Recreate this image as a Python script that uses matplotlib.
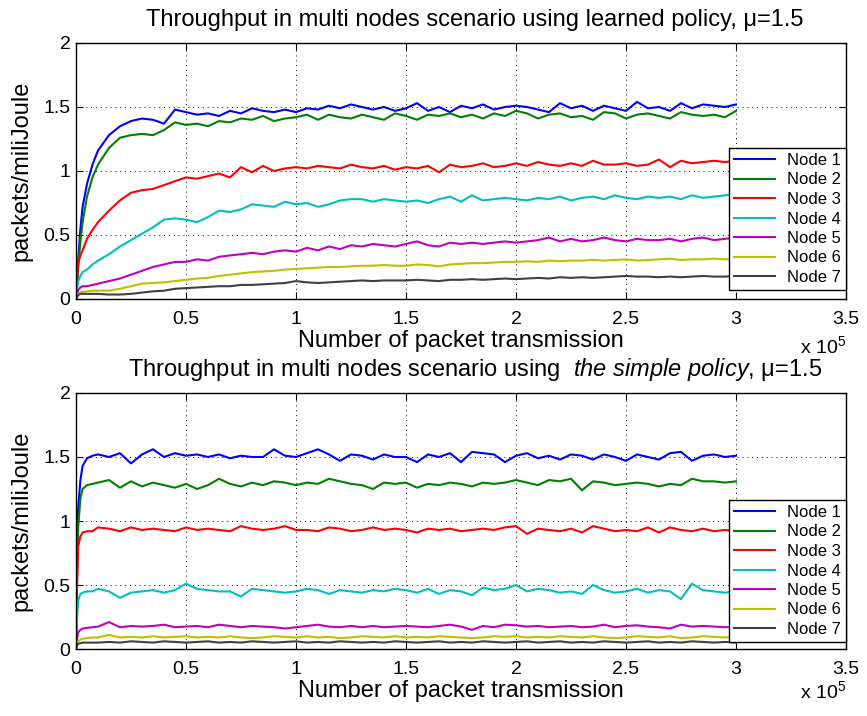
import numpy as np
import matplotlib
matplotlib.use("Agg")
import matplotlib.pyplot as plt
from matplotlib.ticker import FuncFormatter, MultipleLocator

plt.rcParams['font.family'] = ['Liberation Sans', 'DejaVu Sans']
plt.rcParams['mathtext.fontset'] = 'custom'
plt.rcParams['mathtext.rm'] = 'Liberation Sans'
plt.rcParams['mathtext.it'] = 'Liberation Sans:italic'

# ---------------- data (x in units of 1e5 packets) ----------------
x_top = [0, 0.01, 0.02, 0.03, 0.05, 0.075, 0.1,
         0.15, 0.2, 0.25, 0.3, 0.35, 0.4, 0.45, 0.5, 0.55, 0.6, 0.65, 0.7, 0.75, 0.8,
         0.85, 0.9, 0.95, 1.0, 1.05, 1.1, 1.15, 1.2, 1.25, 1.3, 1.35, 1.4, 1.45, 1.5,
         1.55, 1.6, 1.65, 1.7, 1.75, 1.8, 1.85, 1.9, 1.95, 2.0, 2.05, 2.1, 2.15, 2.2,
         2.25, 2.3, 2.35, 2.4, 2.45, 2.5, 2.55, 2.6, 2.65, 2.7, 2.75, 2.8, 2.85, 2.9,
         2.95, 3.0]

top_node1 = [0, 0.30, 0.55, 0.72, 0.90, 1.05, 1.16,
             1.28, 1.35, 1.39, 1.41, 1.40, 1.37, 1.48, 1.46, 1.44, 1.45, 1.43, 1.47, 1.45, 1.49,
             1.47, 1.46, 1.48, 1.46, 1.49, 1.48, 1.51, 1.49, 1.52, 1.50, 1.48, 1.50, 1.47, 1.49,
             1.53, 1.47, 1.50, 1.46, 1.51, 1.49, 1.52, 1.48, 1.50, 1.51, 1.50, 1.48, 1.46, 1.53,
             1.49, 1.51, 1.47, 1.51, 1.49, 1.47, 1.54, 1.49, 1.50, 1.47, 1.53, 1.49, 1.52, 1.51,
             1.50, 1.52]
top_node2 = [0, 0.25, 0.45, 0.60, 0.80, 0.95, 1.05,
             1.18, 1.26, 1.28, 1.29, 1.28, 1.32, 1.38, 1.36, 1.37, 1.35, 1.39, 1.38, 1.41, 1.40,
             1.43, 1.39, 1.41, 1.42, 1.44, 1.40, 1.44, 1.42, 1.41, 1.44, 1.42, 1.40, 1.45, 1.43,
             1.40, 1.44, 1.43, 1.45, 1.42, 1.44, 1.41, 1.45, 1.43, 1.47, 1.45, 1.41, 1.44, 1.45,
             1.42, 1.43, 1.40, 1.46, 1.45, 1.41, 1.44, 1.45, 1.43, 1.41, 1.46, 1.44, 1.43, 1.44,
             1.42, 1.47]
top_node3 = [0, 0.28, 0.34, 0.38, 0.47, 0.54, 0.60,
             0.69, 0.77, 0.83, 0.85, 0.86, 0.89, 0.92, 0.95, 0.94, 0.96, 0.98, 0.95, 1.03, 0.99,
             1.04, 1.00, 1.02, 1.03, 1.02, 1.04, 1.03, 1.02, 1.05, 1.03, 1.02, 1.04, 1.01, 1.03,
             1.02, 1.04, 0.99, 1.05, 1.03, 1.04, 1.06, 1.03, 1.04, 1.06, 1.04, 1.07, 1.05, 1.04,
             1.06, 1.04, 1.08, 1.05, 1.05, 1.06, 1.04, 1.05, 1.09, 1.03, 1.08, 1.06, 1.07, 1.08,
             1.07, 1.08]
top_node4 = [0, 0.14, 0.18, 0.21, 0.23, 0.27, 0.30,
             0.35, 0.41, 0.46, 0.51, 0.56, 0.62, 0.63, 0.62, 0.60, 0.64, 0.69, 0.68, 0.70, 0.74,
             0.73, 0.72, 0.76, 0.74, 0.75, 0.72, 0.74, 0.77, 0.78, 0.78, 0.76, 0.78, 0.77, 0.76,
             0.77, 0.75, 0.78, 0.80, 0.76, 0.81, 0.77, 0.78, 0.79, 0.78, 0.77, 0.79, 0.78, 0.80,
             0.77, 0.79, 0.80, 0.78, 0.81, 0.79, 0.78, 0.80, 0.79, 0.80, 0.78, 0.81, 0.79, 0.80,
             0.81, 0.82]
top_node5 = [0, 0.07, 0.09, 0.10, 0.10, 0.11, 0.12,
             0.14, 0.16, 0.19, 0.22, 0.25, 0.27, 0.29, 0.29, 0.31, 0.30, 0.33, 0.34, 0.35, 0.36,
             0.35, 0.37, 0.38, 0.37, 0.40, 0.38, 0.41, 0.39, 0.42, 0.41, 0.43, 0.42, 0.41, 0.43,
             0.45, 0.42, 0.41, 0.44, 0.43, 0.44, 0.43, 0.44, 0.45, 0.44, 0.45, 0.46, 0.48, 0.45,
             0.47, 0.45, 0.46, 0.48, 0.46, 0.45, 0.47, 0.46, 0.46, 0.47, 0.45, 0.47, 0.48, 0.46,
             0.47, 0.48]
top_node6 = [0, 0.04, 0.05, 0.055, 0.06, 0.065, 0.065,
             0.065, 0.08, 0.10, 0.12, 0.125, 0.13, 0.14, 0.15, 0.16, 0.165, 0.18, 0.19, 0.20, 0.21,
             0.215, 0.22, 0.23, 0.235, 0.24, 0.245, 0.25, 0.25, 0.255, 0.26, 0.26, 0.265, 0.26, 0.26,
             0.27, 0.265, 0.255, 0.27, 0.275, 0.28, 0.28, 0.285, 0.29, 0.29, 0.295, 0.29, 0.30, 0.295,
             0.30, 0.30, 0.305, 0.30, 0.305, 0.31, 0.30, 0.305, 0.31, 0.315, 0.305, 0.31, 0.31, 0.315,
             0.31, 0.31]
top_node7 = [0, 0.03, 0.04, 0.04, 0.04, 0.04, 0.04,
             0.035, 0.035, 0.04, 0.05, 0.06, 0.065, 0.08, 0.085, 0.09, 0.095, 0.10, 0.10, 0.11, 0.11,
             0.115, 0.12, 0.125, 0.14, 0.13, 0.125, 0.13, 0.135, 0.14, 0.145, 0.14, 0.145, 0.145, 0.145,
             0.15, 0.145, 0.14, 0.15, 0.15, 0.155, 0.15, 0.155, 0.16, 0.155, 0.16, 0.165, 0.16, 0.17,
             0.165, 0.17, 0.165, 0.17, 0.175, 0.18, 0.175, 0.175, 0.17, 0.175, 0.17, 0.175, 0.18, 0.175,
             0.175, 0.18]

x_bot = [0, 0.005, 0.01, 0.02, 0.03, 0.05, 0.075,
         0.1, 0.15, 0.2, 0.25, 0.3, 0.35, 0.4, 0.45, 0.5, 0.55, 0.6, 0.65, 0.7, 0.75, 0.8,
         0.85, 0.9, 0.95, 1.0, 1.05, 1.1, 1.15, 1.2, 1.25, 1.3, 1.35, 1.4, 1.45, 1.5,
         1.55, 1.6, 1.65, 1.7, 1.75, 1.8, 1.85, 1.9, 1.95, 2.0, 2.05, 2.1, 2.15, 2.2,
         2.25, 2.3, 2.35, 2.4, 2.45, 2.5, 2.55, 2.6, 2.65, 2.7, 2.75, 2.8, 2.85, 2.9,
         2.95, 3.0]

bot_node1 = [0, 0.80, 1.10, 1.32, 1.43, 1.49, 1.51,
             1.52, 1.50, 1.53, 1.45, 1.52, 1.56, 1.50, 1.53, 1.51, 1.52,
             1.50, 1.52, 1.49, 1.51, 1.50, 1.50, 1.56, 1.51, 1.50, 1.53,
             1.56, 1.52, 1.47, 1.52, 1.51, 1.48, 1.52, 1.50, 1.50, 1.46,
             1.52, 1.50, 1.53, 1.46, 1.54, 1.53, 1.52, 1.46, 1.51, 1.53,
             1.49, 1.51, 1.48, 1.52, 1.51, 1.48, 1.52, 1.50, 1.47, 1.52,
             1.50, 1.48, 1.53, 1.54, 1.47, 1.51, 1.52, 1.50, 1.51]
bot_node2 = [0, 0.60, 0.95, 1.18, 1.25, 1.28, 1.29,
             1.30, 1.32, 1.26, 1.31, 1.27, 1.30, 1.28, 1.26, 1.29, 1.25,
             1.28, 1.33, 1.29, 1.27, 1.30, 1.28, 1.31, 1.30, 1.28, 1.30,
             1.29, 1.33, 1.31, 1.29, 1.28, 1.25, 1.30, 1.29, 1.30, 1.26,
             1.29, 1.28, 1.30, 1.29, 1.27, 1.30, 1.29, 1.30, 1.32, 1.30,
             1.28, 1.32, 1.31, 1.33, 1.24, 1.31, 1.30, 1.28, 1.29, 1.30,
             1.29, 1.27, 1.29, 1.28, 1.33, 1.31, 1.31, 1.30, 1.31]
bot_node3 = [0, 0.50, 0.80, 0.88, 0.91, 0.92, 0.92,
             0.95, 0.94, 0.92, 0.95, 0.93, 0.94, 0.93, 0.92, 0.95, 0.93,
             0.94, 0.93, 0.92, 0.96, 0.94, 0.93, 0.94, 0.96, 0.93, 0.93,
             0.92, 0.95, 0.94, 0.92, 0.93, 0.95, 0.93, 0.94, 0.93, 0.91,
             0.94, 0.93, 0.94, 0.92, 0.93, 0.94, 0.93, 0.95, 0.96, 0.90,
             0.94, 0.93, 0.92, 0.94, 0.91, 0.96, 0.94, 0.92, 0.93, 0.92,
             0.95, 0.91, 0.95, 0.93, 0.92, 0.94, 0.92, 0.93, 0.92]
bot_node4 = [0, 0.25, 0.38, 0.43, 0.44, 0.45, 0.45,
             0.47, 0.45, 0.40, 0.44, 0.45, 0.46, 0.44, 0.46, 0.51, 0.47,
             0.46, 0.45, 0.45, 0.41, 0.47, 0.46, 0.45, 0.44, 0.45, 0.47,
             0.46, 0.43, 0.46, 0.45, 0.44, 0.46, 0.45, 0.47, 0.46, 0.44,
             0.47, 0.43, 0.46, 0.45, 0.42, 0.48, 0.46, 0.47, 0.50, 0.45,
             0.47, 0.46, 0.44, 0.45, 0.43, 0.50, 0.46, 0.44, 0.45, 0.47,
             0.44, 0.46, 0.45, 0.39, 0.51, 0.46, 0.45, 0.44, 0.45]
bot_node5 = [0, 0.08, 0.13, 0.15, 0.16, 0.165, 0.17,
             0.175, 0.21, 0.17, 0.18, 0.175, 0.18, 0.19, 0.17, 0.175, 0.18,
             0.17, 0.19, 0.18, 0.17, 0.18, 0.175, 0.17, 0.16, 0.17, 0.18,
             0.19, 0.175, 0.17, 0.18, 0.17, 0.18, 0.17, 0.175, 0.18, 0.175,
             0.17, 0.18, 0.19, 0.175, 0.15, 0.18, 0.17, 0.19, 0.185, 0.175,
             0.18, 0.17, 0.175, 0.18, 0.17, 0.175, 0.19, 0.17, 0.18, 0.185,
             0.175, 0.17, 0.16, 0.19, 0.175, 0.18, 0.175, 0.17, 0.175]
bot_node6 = [0, 0.04, 0.06, 0.075, 0.08, 0.085, 0.09,
             0.09, 0.11, 0.09, 0.095, 0.09, 0.10, 0.09, 0.095, 0.10, 0.09,
             0.095, 0.09, 0.10, 0.09, 0.085, 0.09, 0.10, 0.095, 0.09, 0.10,
             0.09, 0.095, 0.085, 0.09, 0.10, 0.095, 0.09, 0.10, 0.09, 0.095,
             0.09, 0.10, 0.095, 0.09, 0.085, 0.09, 0.10, 0.095, 0.10, 0.09,
             0.095, 0.09, 0.10, 0.095, 0.09, 0.10, 0.09, 0.085, 0.09, 0.10,
             0.095, 0.09, 0.10, 0.085, 0.09, 0.10, 0.095, 0.09, 0.095]
bot_node7 = [0, 0.03, 0.04, 0.045, 0.05, 0.05, 0.05,
             0.05, 0.055, 0.05, 0.06, 0.055, 0.05, 0.06, 0.055, 0.05, 0.055,
             0.06, 0.05, 0.055, 0.05, 0.06, 0.055, 0.05, 0.055, 0.06, 0.05,
             0.055, 0.05, 0.06, 0.055, 0.05, 0.055, 0.05, 0.06, 0.055, 0.05,
             0.055, 0.06, 0.05, 0.055, 0.05, 0.06, 0.055, 0.05, 0.055, 0.06,
             0.05, 0.055, 0.06, 0.05, 0.055, 0.05, 0.06, 0.055, 0.05, 0.055,
             0.06, 0.05, 0.055, 0.05, 0.06, 0.055, 0.05, 0.055, 0.05]

labels = ['Node 1', 'Node 2', 'Node 3', 'Node 4', 'Node 5', 'Node 6', 'Node 7']
colors = [(0, 0, 1), (0, 0.5, 0), (1, 0, 0), (0, 0.75, 0.75),
          (0.75, 0, 0.75), (0.75, 0.75, 0), (0.25, 0.25, 0.25)]

top_series = [top_node1, top_node2, top_node3, top_node4, top_node5, top_node6, top_node7]
bot_series = [bot_node1, bot_node2, bot_node3, bot_node4, bot_node5, bot_node6, bot_node7]

titles = ['Throughput in multi nodes scenario using learned policy, \u03bc=1.5',
          'Throughput in multi nodes scenario using  $\\it{the\\ simple\\ policy}$, \u03bc=1.5']
xlabel = 'Number of packet transmission'
ylabel = 'packets/miliJoule'

# ---------------- figure ----------------
W, H = 867, 716
fig = plt.figure(figsize=(W / 100, H / 100), dpi=100)

def px_axes(l, t, r, b):
    return fig.add_axes([l / W, 1 - b / H, (r - l) / W, (b - t) / H])

ax_top = px_axes(76, 43, 846, 299)
ax_bot = px_axes(76, 393, 846, 649)

fmt = FuncFormatter(lambda v, p: ('%g' % (v / 1e5)))

for ax, xs, series, title, leg_off in [(ax_top, x_top, top_series, titles[0], 9),
                                       (ax_bot, x_bot, bot_series, titles[1], 7)]:
    xv = np.array(xs) * 1e5
    for ys, c, lab in zip(series, colors, labels):
        ax.plot(xv, ys, color=c, lw=1.5, label=lab)
    ax.set_xlim(0, 3.5e5)
    ax.set_ylim(0, 2)
    ax.xaxis.set_major_locator(MultipleLocator(0.5e5))
    ax.yaxis.set_major_locator(MultipleLocator(0.5))
    ax.xaxis.set_major_formatter(fmt)
    ax.yaxis.set_major_formatter(FuncFormatter(lambda v, p: '%g' % v))
    ax.tick_params(direction='in', length=5, width=0.8, top=True, right=True,
                   labelsize=14, pad=4)
    ax.tick_params(axis='x', pad=9)
    ax.grid(True, color='black', linestyle=(0, (1, 4)), linewidth=0.7)
    for s in ax.spines.values():
        s.set_linewidth(1.0)
    ax.set_title(title, fontsize=17, pad=12, x=0.518)
    ax.set_xlabel(xlabel, fontsize=17, labelpad=1)
    ax.set_ylabel(ylabel, fontsize=17)
    leg = ax.legend(loc='lower right', bbox_to_anchor=(1.0, leg_off / 256),
                    borderaxespad=0, fontsize=12, handlelength=2.5,
                    handletextpad=0.7, labelspacing=0.27, borderpad=0.3,
                    fancybox=False, framealpha=1, edgecolor='black')
    leg.get_frame().set_linewidth(1.0)
    ax.yaxis.set_label_coords(-44 / 770, 0.5)

fig.text(800 / W, 1 - 353 / H, r'x 10$^{5}$', fontsize=14, ha='left', va='baseline')
fig.text(800 / W, 1 - 698 / H, r'x 10$^{5}$', fontsize=14, ha='left', va='baseline')

fig.savefig('out.png', dpi=100)
